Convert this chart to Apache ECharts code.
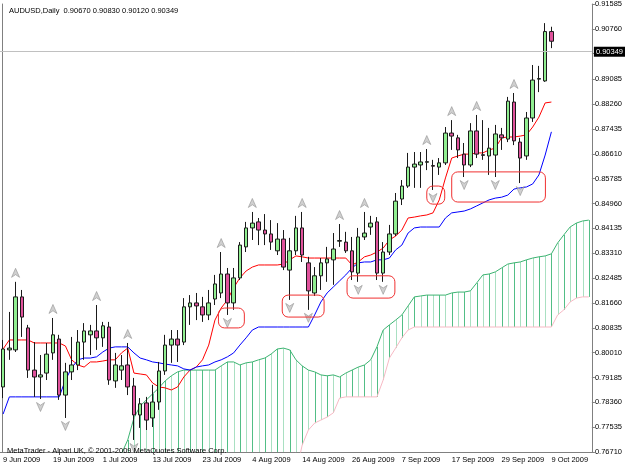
<!DOCTYPE html>
<html>
<head>
<meta charset="utf-8">
<script src="https://cdn.jsdelivr.net/npm/echarts@6/dist/echarts.min.js"></script>
<style>
html, body { margin: 0; padding: 0; background: #fff; }
#chart { width: 625px; height: 469px; }
</style>
</head>
<body>
<div id="chart"></div>
<script>
// trading days, plus a few future slots where the cloud is projected
var dates = ['9 Jun 2009','10 Jun 2009','11 Jun 2009','12 Jun 2009','15 Jun 2009','16 Jun 2009','17 Jun 2009','18 Jun 2009','19 Jun 2009','22 Jun 2009','23 Jun 2009','24 Jun 2009','25 Jun 2009','26 Jun 2009','29 Jun 2009','30 Jun 2009',
  '1 Jul 2009','2 Jul 2009','3 Jul 2009','6 Jul 2009','7 Jul 2009','8 Jul 2009','9 Jul 2009','10 Jul 2009','13 Jul 2009','14 Jul 2009','15 Jul 2009','16 Jul 2009','17 Jul 2009','20 Jul 2009','21 Jul 2009','22 Jul 2009','23 Jul 2009','24 Jul 2009','27 Jul 2009','28 Jul 2009','29 Jul 2009','30 Jul 2009','31 Jul 2009',
  '3 Aug 2009','4 Aug 2009','5 Aug 2009','6 Aug 2009','7 Aug 2009','10 Aug 2009','11 Aug 2009','12 Aug 2009','13 Aug 2009','14 Aug 2009','17 Aug 2009','18 Aug 2009','19 Aug 2009','20 Aug 2009','21 Aug 2009','24 Aug 2009','25 Aug 2009','26 Aug 2009','27 Aug 2009','28 Aug 2009','31 Aug 2009',
  '1 Sep 2009','2 Sep 2009','3 Sep 2009','4 Sep 2009','7 Sep 2009','8 Sep 2009','9 Sep 2009','10 Sep 2009','11 Sep 2009','14 Sep 2009','15 Sep 2009','16 Sep 2009','17 Sep 2009','18 Sep 2009','21 Sep 2009','22 Sep 2009','23 Sep 2009','24 Sep 2009','25 Sep 2009','28 Sep 2009','29 Sep 2009','30 Sep 2009',
  '1 Oct 2009','2 Oct 2009','5 Oct 2009','6 Oct 2009','7 Oct 2009','8 Oct 2009','9 Oct 2009','12 Oct 2009','13 Oct 2009','14 Oct 2009','15 Oct 2009','16 Oct 2009','19 Oct 2009'];

var opens = [0.7887,0.8010,0.8010,0.8186,0.8083,0.7943,0.7920,0.7933,0.8000,0.8046,
  0.7860,0.7937,0.7960,0.8036,0.8060,0.8073,0.8050,0.8086,0.7907,0.7943,
  0.7960,0.7890,0.7794,0.7834,0.7784,0.7837,0.7940,0.8026,0.8046,0.8036,
  0.8153,0.8166,0.8153,0.8126,0.8179,0.8199,0.8262,0.8166,0.8249,0.8352,
  0.8415,0.8435,0.8408,0.8395,0.8339,0.8378,0.8275,0.8339,0.8415,0.8299,
  0.8199,0.8256,0.8299,0.8309,0.8371,0.8368,0.8339,0.8265,0.8385,0.8418,
  0.8435,0.8265,0.8335,0.8395,0.8511,0.8554,0.8617,0.8624,0.8633,0.8622,
  0.8617,0.8631,0.8730,0.8714,0.8660,0.8624,0.8737,0.8658,0.8654,0.8657,
  0.8724,0.8710,0.8833,0.8700,0.8654,0.8780,0.8909,0.8903,0.90670];
var closes = [0.8013,0.8016,0.8186,0.8119,0.7943,0.7920,0.7927,0.7996,0.8060,0.7860,
  0.7937,0.7960,0.8036,0.8073,0.8073,0.8050,0.8090,0.7910,0.7960,0.7957,
  0.7887,0.7794,0.7831,0.7777,0.7837,0.7940,0.8026,0.8046,0.8026,0.8153,
  0.8166,0.8156,0.8126,0.8166,0.8229,0.8262,0.8166,0.8249,0.8358,0.8415,
  0.8431,0.8408,0.8395,0.8368,0.8378,0.8285,0.8339,0.8415,0.8325,0.8206,
  0.8256,0.8299,0.8312,0.8345,0.8373,0.8339,0.8269,0.8385,0.8398,0.8431,
  0.8265,0.8335,0.8395,0.8504,0.8554,0.8617,0.8627,0.8634,0.8635,0.8620,
  0.8631,0.8730,0.8720,0.8674,0.8624,0.8737,0.8660,0.8656,0.8680,0.8727,
  0.8714,0.8836,0.8704,0.8647,0.8780,0.8906,0.8911,0.9067,0.90349];
var lows = [0.7850,0.7977,0.8003,0.8053,0.7917,0.7854,0.7847,0.7910,0.7977,0.7844,
  0.7784,0.7910,0.7943,0.7977,0.7993,0.8010,0.8020,0.7894,0.7884,0.7910,
  0.7860,0.7711,0.7751,0.7744,0.7754,0.7811,0.7927,0.7967,0.7970,0.8026,
  0.8093,0.8109,0.8103,0.8109,0.8159,0.8182,0.8126,0.8143,0.8242,0.8335,
  0.8375,0.8358,0.8358,0.8342,0.8325,0.8275,0.8176,0.8325,0.8302,0.8143,
  0.8189,0.8209,0.8236,0.8226,0.8352,0.8332,0.8242,0.8236,0.8375,0.8392,
  0.8242,0.8236,0.8325,0.8388,0.8491,0.8548,0.8548,0.8548,0.8607,0.8541,
  0.8591,0.8624,0.8674,0.8647,0.8584,0.8617,0.8647,0.8641,0.8591,0.8584,
  0.8674,0.8700,0.8690,0.8564,0.8641,0.8767,0.8866,0.8900,0.90120];
var highs = [0.8043,0.8136,0.8236,0.8209,0.8093,0.8036,0.7993,0.8033,0.8116,0.8060,
  0.7967,0.8053,0.8076,0.8099,0.8093,0.8159,0.8103,0.8103,0.8000,0.7993,
  0.8033,0.7917,0.7850,0.7854,0.7894,0.7970,0.8060,0.8076,0.8076,0.8182,
  0.8192,0.8199,0.8186,0.8209,0.8259,0.8335,0.8282,0.8282,0.8368,0.8435,
  0.8468,0.8448,0.8461,0.8441,0.8431,0.8408,0.8382,0.8455,0.8468,0.8319,
  0.8285,0.8315,0.8352,0.8398,0.8428,0.8402,0.8385,0.8415,0.8468,0.8455,
  0.8451,0.8368,0.8425,0.8531,0.8574,0.8664,0.8667,0.8667,0.8677,0.8641,
  0.8647,0.8750,0.8773,0.8724,0.8697,0.8763,0.8790,0.8773,0.8747,0.8757,
  0.8747,0.8850,0.8863,0.8714,0.8800,0.8956,0.8953,0.9095,0.90830];

// Ichimoku lines
var tenkan = [0.8013,0.8043,0.8043,0.8043,0.8043,0.8033,0.8033,0.8033,0.8033,0.8033,
  0.8023,0.7977,0.7960,0.7953,0.7970,0.7970,0.7973,0.7977,0.7977,0.8000,
  0.8016,0.7933,0.7930,0.7927,0.7900,0.7887,0.7884,0.7877,0.7887,0.7920,
  0.7943,0.7953,0.7977,0.8026,0.8109,0.8149,0.8176,0.8216,0.8249,0.8272,
  0.8285,0.8292,0.8292,0.8292,0.8292,0.8295,0.8309,0.8322,0.8319,0.8315,
  0.8315,0.8315,0.8315,0.8315,0.8315,0.8315,0.8292,0.8302,0.8319,0.8325,
  0.8335,0.8348,0.8375,0.8388,0.8408,0.8448,0.8451,0.8455,0.8458,0.8465,
  0.8508,0.8581,0.8647,0.8654,0.8660,0.8660,0.8664,0.8664,0.8674,0.8680,
  0.8714,0.8717,0.8717,0.8720,0.8724,0.8750,0.8783,0.8830,0.8833];
var kijun = [0.7797,0.7854,0.7854,0.7854,0.7854,0.7854,0.7854,0.7854,0.7854,0.7854,
  0.7910,0.7950,0.7977,0.7983,0.7983,0.7987,0.8003,0.8016,0.8020,0.8020,
  0.8020,0.8000,0.7983,0.7977,0.7970,0.7967,0.7963,0.7960,0.7957,0.7947,
  0.7943,0.7953,0.7957,0.7960,0.7970,0.7977,0.7987,0.8000,0.8026,0.8050,
  0.8076,0.8086,0.8086,0.8086,0.8086,0.8086,0.8086,0.8086,0.8086,0.8086,
  0.8126,0.8169,0.8199,0.8219,0.8239,0.8259,0.8282,0.8299,0.8302,0.8302,
  0.8309,0.8309,0.8315,0.8342,0.8358,0.8398,0.8415,0.8418,0.8418,0.8418,
  0.8418,0.8448,0.8465,0.8468,0.8471,0.8478,0.8488,0.8498,0.8508,0.8514,
  0.8517,0.8524,0.8544,0.8548,0.8551,0.8561,0.8591,0.8657,0.8734];
var spanA = [null,null,null,null,null,null,null,null,null,null,
  null,null,null,null,null,null,null,null,null,0.7665,
  0.7711,0.7784,0.7824,0.7844,0.7864,0.7884,0.7907,0.7924,0.7937,0.7943,
  0.7943,0.7943,0.7943,0.7943,0.7943,0.7957,0.7970,0.7970,0.7960,0.7967,
  0.7970,0.7977,0.7983,0.7996,0.8013,0.8016,0.8010,0.7977,0.7957,0.7943,
  0.7937,0.7927,0.7924,0.7927,0.7920,0.7933,0.7943,0.7953,0.7960,0.7977,
  0.8020,0.8076,0.8093,0.8109,0.8126,0.8156,0.8186,0.8189,0.8192,0.8192,
  0.8192,0.8192,0.8199,0.8202,0.8202,0.8206,0.8232,0.8259,0.8262,0.8269,
  0.8282,0.8295,0.8299,0.8302,0.8309,0.8315,0.8319,0.8322,0.8329,0.8365,
  0.8392,0.8418,0.8431,0.8438,0.8441];
var spanB = [null,null,null,null,null,null,null,null,null,null,
  null,null,null,null,null,null,null,null,null,null,
  0.7600,0.7600,0.7600,0.7600,0.7600,0.7600,0.7600,0.7600,0.7600,0.7600,
  0.7600,0.7600,0.7600,0.7600,0.7600,0.7600,0.7600,0.7600,0.7600,0.7600,
  0.7600,0.7600,0.7600,0.7600,0.7600,0.7600,0.7600,0.7600,0.7694,0.7744,
  0.7767,0.7777,0.7787,0.7801,0.7850,0.7854,0.7854,0.7854,0.7854,0.7854,
  0.7854,0.7910,0.7983,0.8016,0.8050,0.8076,0.8086,0.8086,0.8086,0.8086,
  0.8086,0.8086,0.8086,0.8086,0.8086,0.8086,0.8086,0.8086,0.8086,0.8086,
  0.8086,0.8086,0.8086,0.8086,0.8086,0.8086,0.8086,0.8086,0.8086,0.8126,
  0.8143,0.8169,0.8182,0.8186,0.8186];

// bars carrying Bill Williams fractal arrows
var upFractals = [2, 8, 15, 20, 35, 40, 48, 54, 58, 68, 72, 76, 82];
var downFractals = [6, 10, 21, 36, 46, 49, 57, 61, 69, 74, 79, 83];

var yTicks = [0.76710,0.77535,0.78360,0.79185,0.80010,0.80835,0.81660,0.82485,0.83310,0.84135,
  0.84960,0.85785,0.86610,0.87435,0.88260,0.89085,0.89935,0.90760,0.91585];

// hand drawn boxes: [fromBar, toBar, topPrice, bottomPrice]
var boxes = [[34.56, 38.72, 0.8149, 0.8083],
  [44.8, 51.52, 0.8192, 0.8119],
  [55.2, 62.88, 0.8256, 0.8182],
  [68.0, 70.88, 0.8554, 0.8494],
  [72.0, 87.04, 0.8601, 0.8501]];

var lastClose = closes[closes.length - 1];
var font = 'Liberation Sans';

var candles = opens.map(function (o, i) { return [o, closes[i], lows[i], highs[i]]; });
var cloud = spanA.map(function (a, i) { return [i, a, spanB[i]]; });

var myChart = echarts.init(document.getElementById('chart'));
var option = {
  animation: false,
  backgroundColor: '#ffffff',
  textStyle: { fontFamily: font },
  title: [
    { text: 'AUDUSD,Daily  0.90670 0.90830 0.90120 0.90349', left: 4, top: 2,
      textStyle: { fontSize: 7.5, fontWeight: 'normal', color: '#000', fontFamily: font } },
    { text: 'MetaTrader - Alpari UK, \u00a9 2001-2009 MetaQuotes Software Corp.', left: 2, top: 442,
      textStyle: { fontSize: 7.5, fontWeight: 'normal', color: '#000', fontFamily: font } }
  ],
  grid: { left: -1, right: 32, top: 4, bottom: 17 },
  xAxis: {
    type: 'category',
    data: dates,
    boundaryGap: true,
    axisLine: { lineStyle: { color: '#808080' } },
    axisTick: { interval: 7, alignWithLabel: true, length: 3, lineStyle: { color: '#808080' } },
    axisLabel: { interval: 7, align: 'left', fontSize: 7.5, color: '#000', margin: 4, fontFamily: font },
    splitLine: { show: false }
  },
  yAxis: [{
    type: 'value',
    position: 'right',
    min: yTicks[0],
    max: yTicks[yTicks.length - 1],
    axisLine: { show: true, lineStyle: { color: '#808080' } },
    axisTick: { show: true, length: 3, customValues: yTicks, lineStyle: { color: '#808080' } },
    axisLabel: { customValues: yTicks, fontSize: 7.5, color: '#000', margin: 3, fontFamily: font,
      formatter: function (v) { return v.toFixed(5); } },
    splitLine: { show: false }
  }, {
    type: 'value',
    position: 'left',
    offset: -2,
    min: yTicks[0],
    max: yTicks[yTicks.length - 1],
    axisLine: { show: true, lineStyle: { color: '#808080' } },
    axisTick: { show: false },
    axisLabel: { show: false },
    splitLine: { show: false }
  }],
  series: [
    {
      type: 'custom',
      data: cloud,
      encode: { x: 0, y: [1, 2] },
      z: 1,
      silent: true,
      renderItem: function (params, api) {
        var a = api.value(1), b = api.value(2);
        if (isNaN(a) || isNaN(b)) return;
        var p1 = api.coord([api.value(0), a]);
        var p2 = api.coord([api.value(0), b]);
        var cs = params.coordSys;
        var lo = cs.y, hi = cs.y + cs.height;
        var y1 = Math.max(lo, Math.min(hi, p1[1]));
        var y2 = Math.max(lo, Math.min(hi, p2[1]));
        if (y1 === y2) return;
        var x = Math.round(p1[0]) + 0.5;
        return {
          type: 'line',
          shape: { x1: x, y1: y1, x2: x, y2: y2 },
          style: { stroke: params.dataIndex % 2 ? '#a9e0c2' : '#52be86', lineWidth: 1 }
        };
      }
    },
    { type: 'line', data: spanA, symbol: 'none', z: 2, silent: true,
      lineStyle: { color: '#3cb371', width: 1 } },
    { type: 'line', data: spanB, symbol: 'none', z: 2, silent: true,
      lineStyle: { color: '#f7b9c4', width: 1 } },
    { type: 'line', data: tenkan, symbol: 'none', z: 3, silent: true,
      lineStyle: { color: '#ff0000', width: 1 } },
    { type: 'line', data: kijun, symbol: 'none', z: 3, silent: true,
      lineStyle: { color: '#0000ff', width: 1 } },
    {
      type: 'candlestick',
      data: candles,
      barWidth: 4,
      z: 4,
      itemStyle: {
        color: '#90ee90', color0: '#e0529c',
        borderColor: '#1a1a1a', borderColor0: '#1a1a1a', borderWidth: 1
      },
      markLine: {
        silent: true,
        symbol: 'none',
        data: [{ yAxis: lastClose }],
        lineStyle: { color: '#c0c0c0', type: 'solid', width: 1 },
        label: {
          position: 'end', distance: 2,
          formatter: function () { return lastClose.toFixed(5); },
          backgroundColor: '#000', color: '#fff', fontSize: 7.5, padding: [1, 2, 1, 2], fontFamily: font
        }
      }
    },
    {
      type: 'scatter',
      data: upFractals.map(function (i) { return [i, highs[i]]; }),
      symbol: 'path://M0,0 L5,10 L0,7 L-5,10 Z',
      symbolSize: [8, 9],
      symbolOffset: [0, -9],
      z: 5, silent: true,
      itemStyle: { color: '#c4c4c4', borderColor: '#8a8a8a', borderWidth: 0.7 }
    },
    {
      type: 'scatter',
      data: downFractals.map(function (i) { return [i, lows[i]]; }),
      symbol: 'path://M0,10 L5,0 L0,3 L-5,0 Z',
      symbolSize: [8, 9],
      symbolOffset: [0, 8],
      z: 5, silent: true,
      itemStyle: { color: '#c4c4c4', borderColor: '#8a8a8a', borderWidth: 0.7 }
    }
  ]
};
myChart.setOption(option);

// annotation boxes, placed through the chart's own axes
function toPixel(x, y) {
  var i0 = Math.floor(x), f = x - i0;
  var a = myChart.convertToPixel({ gridIndex: 0 }, [i0, y]);
  var b = myChart.convertToPixel({ gridIndex: 0 }, [i0 + 1, y]);
  return [a[0] + f * (b[0] - a[0]), a[1]];
}
myChart.setOption({
  graphic: boxes.map(function (bx) {
    var p1 = toPixel(bx[0], bx[2]);
    var p2 = toPixel(bx[1], bx[3]);
    return {
      type: 'rect', z: 100, silent: true,
      shape: { x: p1[0], y: p1[1], width: p2[0] - p1[0], height: p2[1] - p1[1], r: 6 },
      style: { fill: 'none', stroke: '#f03030', lineWidth: 1 }
    };
  })
});
</script>
</body>
</html>
